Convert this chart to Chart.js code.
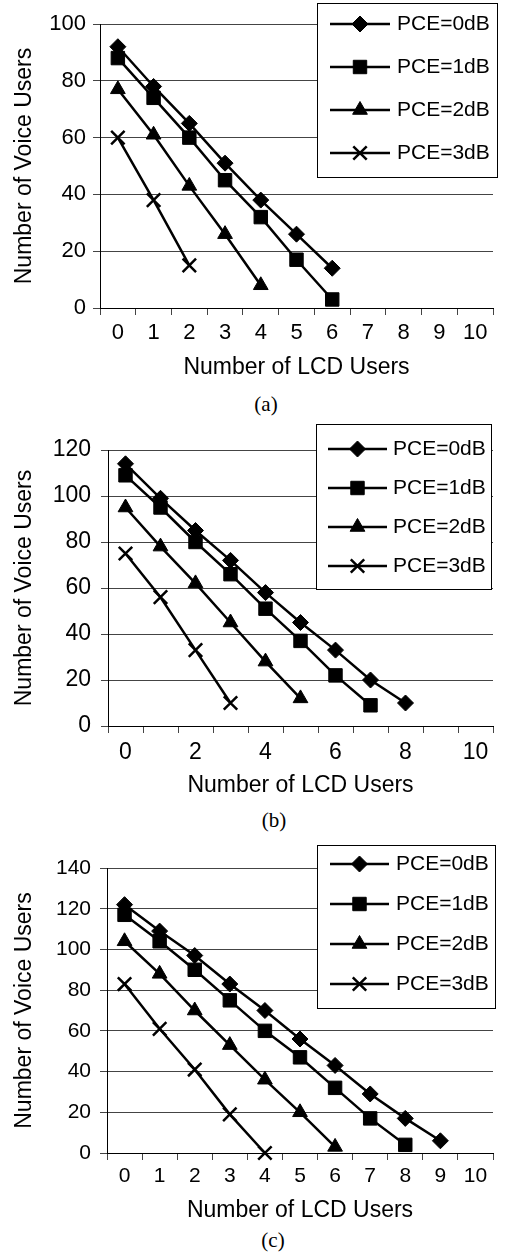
<!DOCTYPE html>
<html>
<head>
<meta charset="utf-8">
<script src="https://cdn.jsdelivr.net/npm/chart.js@4"></script>
<style>
  html, body { margin: 0; padding: 0; background: #fff; }
  body { width: 505px; height: 1255px; position: relative; overflow: hidden; }
  .block { position: absolute; left: 0; width: 505px; height: 390px; }
  .caption {
    position: absolute; font-family: 'Liberation Serif', 'Times New Roman', serif;
    font-size: 21px; line-height: 24px; color: #000; transform: translateX(-50%);
  }
</style>
</head>
<body>
<div class="block" style="top:0px"><canvas id="chartA" width="505" height="390"></canvas></div>
<div class="caption" style="left:266px; top:392px">(a)</div>
<div class="block" style="top:410px"><canvas id="chartB" width="505" height="390"></canvas></div>
<div class="caption" style="left:274px; top:808px">(b)</div>
<div class="block" style="top:835px"><canvas id="chartC" width="505" height="390"></canvas></div>
<div class="caption" style="left:273px; top:1228px">(c)</div>

<script>
// x categories (number of LCD users)
const lcdUsers = ['0', '1', '2', '3', '4', '5', '6', '7', '8', '9', '10'];
const seriesNames = ['PCE=0dB', 'PCE=1dB', 'PCE=2dB', 'PCE=3dB'];

// (a)
const voiceA0 = [92, 78, 65, 51, 38, 26, 14];
const voiceA1 = [88, 74, 60, 45, 32, 17, 3];
const voiceA2 = [77, 61, 43, 26, 8];
const voiceA3 = [60, 38, 15];

// (b)
const voiceB0 = [114, 99, 85, 72, 58, 45, 33, 20, 10];
const voiceB1 = [109, 95, 80, 66, 51, 37, 22, 9];
const voiceB2 = [95, 78, 62, 45, 28, 12];
const voiceB3 = [75, 56, 33, 10];

// (c)
const voiceC0 = [122, 109, 97, 83, 70, 56, 43, 29, 17, 6];
const voiceC1 = [117, 104, 90, 75, 60, 47, 32, 17, 4];
const voiceC2 = [104, 88, 70, 53, 36, 20, 3];
const voiceC3 = [83, 61, 41, 19, 0];

Chart.defaults.font.family = "'Liberation Sans', Arial, sans-serif";
Chart.defaults.color = '#000';

// marker per series
const markers = [
    { pointStyle: 'rectRot', radius: 8, border: 1 },
    { pointStyle: 'rect', radius: 9.5, border: 1 },
    { pointStyle: 'triangle', radius: 8.5, border: 1 },
    { pointStyle: 'crossRot', radius: 9.5, border: 2.5 }
];

// legend box drawn inside the plot, like the original
const boxLegend = {
    id: 'boxLegend',
    afterDatasetsDraw(chart, args, opts) {
        const ctx = chart.ctx;
        ctx.save();
        ctx.fillStyle = '#fff';
        ctx.fillRect(opts.x, opts.y, opts.w, opts.h);
        ctx.strokeStyle = '#000';
        ctx.lineWidth = 1;
        ctx.strokeRect(opts.x + 0.5, opts.y + 0.5, opts.w, opts.h);

        ctx.font = opts.fontSize + "px 'Liberation Sans', Arial, sans-serif";
        ctx.textBaseline = 'middle';
        ctx.textAlign = 'left';
        chart.data.datasets.forEach(function(ds, i) {
            const y = opts.y + opts.first + i * opts.gap;
            ctx.strokeStyle = '#000';
            ctx.fillStyle = '#000';
            ctx.lineWidth = ds.borderWidth;
            ctx.beginPath();
            ctx.moveTo(opts.lineX0, y);
            ctx.lineTo(opts.lineX1, y);
            ctx.stroke();
            ctx.lineWidth = ds.pointBorderWidth;
            Chart.helpers.drawPoint(ctx, {
                pointStyle: ds.pointStyle,
                radius: ds.pointRadius,
                borderWidth: ds.pointBorderWidth,
                rotation: 0
            }, (opts.lineX0 + opts.lineX1) / 2, y);
            ctx.fillText(ds.label, opts.textX, y);
        });
        ctx.restore();
    }
};

function buildChart(id, series, cfg) {
    const datasets = series.map(function(values, i) {
        return {
            label: seriesNames[i],
            data: values,
            borderColor: '#000',
            backgroundColor: '#000',
            borderWidth: 2.5,
            tension: 0,
            pointStyle: markers[i].pointStyle,
            pointRadius: markers[i].radius,
            pointHoverRadius: markers[i].radius,
            pointBorderWidth: markers[i].border,
            pointBackgroundColor: '#000',
            pointBorderColor: '#000',
            clip: false
        };
    });

    return new Chart(document.getElementById(id), {
        type: 'line',
        data: { labels: lcdUsers, datasets: datasets },
        plugins: [boxLegend],
        options: {
            responsive: false,
            animation: false,
            layout: { padding: { top: cfg.top, right: cfg.right, left: 0, bottom: 0 } },
            plugins: {
                legend: { display: false },
                tooltip: { enabled: false },
                boxLegend: cfg.legend
            },
            scales: {
                x: {
                    type: 'category',
                    offset: true,
                    afterFit: function(scale) { scale.height = cfg.xHeight; },
                    grid: {
                        offset: true,
                        drawOnChartArea: false,
                        drawTicks: true,
                        tickLength: 7,
                        color: '#444'
                    },
                    border: { color: '#000', width: 1 },
                    ticks: {
                        autoSkip: false,
                        maxRotation: 0,
                        padding: cfg.xPad,
                        font: { size: cfg.font },
                        callback: function(v, i) {
                            return i % cfg.labelStep === 0 ? lcdUsers[i] : '';
                        }
                    },
                    title: {
                        display: true,
                        text: 'Number of LCD Users',
                        font: { size: 23 },
                        padding: { top: 0, bottom: cfg.xTitlePad }
                    }
                },
                y: {
                    min: 0,
                    max: cfg.yMax,
                    afterFit: function(scale) { scale.width = cfg.yWidth; },
                    grid: { color: '#444', lineWidth: 1, tickLength: 7 },
                    border: { color: '#000', width: 1 },
                    ticks: {
                        stepSize: 20,
                        padding: cfg.yPad,
                        font: { size: cfg.font }
                    },
                    title: {
                        display: true,
                        text: 'Number of Voice Users',
                        font: { size: 23 },
                        padding: { top: 11, bottom: 0 }
                    }
                }
            }
        }
    });
}

buildChart('chartA', [voiceA0, voiceA1, voiceA2, voiceA3], {
    top: 24, right: 3, xHeight: 82, yWidth: 100, yMax: 100,
    font: 22, xPad: 5, yPad: 7, xTitlePad: 9, labelStep: 1,
    legend: { x: 317, y: 3, w: 180, h: 174, first: 21, gap: 43, lineX0: 330, lineX1: 390, textX: 397, fontSize: 21 }
});

buildChart('chartB', [voiceB0, voiceB1, voiceB2, voiceB3], {
    top: 40, right: 2, xHeight: 74, yWidth: 108, yMax: 120,
    font: 23, xPad: 6, yPad: 10, xTitlePad: 1, labelStep: 2,
    legend: { x: 316, y: 14, w: 175, h: 165, first: 25, gap: 39, lineX0: 328, lineX1: 387, textX: 393, fontSize: 21 }
});

buildChart('chartC', [voiceC0, voiceC1, voiceC2, voiceC3], {
    top: 33, right: 1, xHeight: 72, yWidth: 107, yMax: 140,
    font: 21, xPad: 4, yPad: 9, xTitlePad: 1, labelStep: 1,
    legend: { x: 317, y: 10, w: 178, h: 163, first: 19, gap: 40, lineX0: 330, lineX1: 389, textX: 396, fontSize: 21 }
});
</script>
</body>
</html>
